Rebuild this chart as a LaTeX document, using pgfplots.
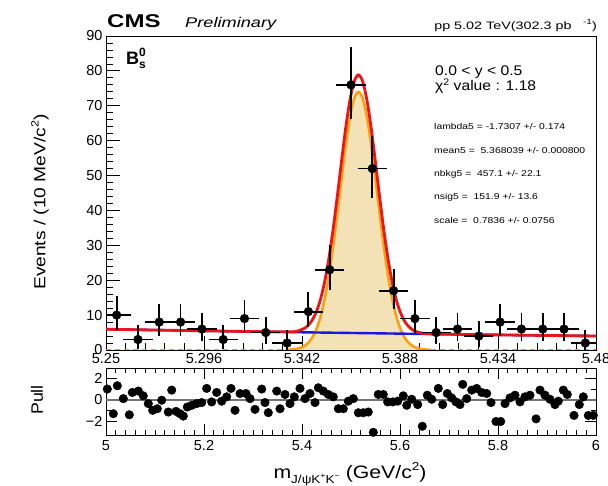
\documentclass[border=0pt]{standalone}
\usepackage{fontspec}
\setmainfont{Liberation Sans}
\usepackage{graphicx}
\usepackage{pgfplots}
\pgfplotsset{compat=1.18}
\definecolor{rootred}{RGB}{235,20,25}
\definecolor{rootorange}{RGB}{250,160,15}
\definecolor{rootfill}{RGB}{242,226,182}
\definecolor{rootblue}{RGB}{25,25,220}
\newcommand{\fs}[1]{\fontsize{#1}{#1}\selectfont}
\begin{document}
\begin{tikzpicture}
% ---------------- main panel ----------------
\begin{axis}[
  at={(106pt,136pt)}, anchor=south west, scale only axis,
  width=490pt, height=314pt,
  xmin=5.25, xmax=5.48, ymin=0, ymax=90,
  xtick={5.25,5.296,5.342,5.388,5.434,5.48},
  xticklabels={5.25,5.296,5.342,5.388,5.434,5.48},
  ytick={0,10,...,90},
  minor x tick num=4, minor y tick num=4,
  xtick pos=bottom, ytick pos=left,
  tick align=inside,
  major tick length=14pt, minor tick length=7pt,
  axis line style={line width=0.9pt, black},
  every tick/.style={line width=0.8pt, black},
  tick label style={font=\fs{14.5}},
  /pgf/number format/assume math mode=true,
]
\addplot[draw=none, fill=rootfill] coordinates {
(5.3345,0) (5.3385,0.22) (5.3405,0.47) (5.3425,0.94) (5.3445,1.80) (5.3465,3.25)
(5.3485,5.59) (5.3505,9.13) (5.3525,14.2) (5.3545,20.9) (5.3565,29.2) (5.3585,38.8)
(5.3605,48.9) (5.3625,58.7) (5.3645,66.7) (5.3665,72.1) (5.3685,74.0) (5.3705,72.1)
(5.3725,66.7) (5.3745,58.7) (5.3765,48.9) (5.3785,38.8) (5.3805,29.2) (5.3825,20.9)
(5.3845,14.2) (5.3865,9.13) (5.3885,5.59) (5.3905,3.25) (5.3925,1.80) (5.3945,0.94)
(5.3965,0.47) (5.3985,0.22) (5.4025,0)
} \closedcycle;
\addplot[rootorange, line width=2.6pt, dash pattern=on 5pt off 4pt] coordinates {(5.25,0) (5.3345,0)};
\addplot[rootorange, line width=2.6pt, dash pattern=on 5pt off 4pt] coordinates {(5.4025,0) (5.48,0)};
\addplot[rootorange, line width=2.6pt, smooth] coordinates {
(5.3345,0.04) (5.3385,0.22) (5.3405,0.47) (5.3425,0.94) (5.3445,1.80) (5.3465,3.25)
(5.3485,5.59) (5.3505,9.13) (5.3525,14.2) (5.3545,20.9) (5.3565,29.2) (5.3585,38.8)
(5.3605,48.9) (5.3625,58.7) (5.3645,66.7) (5.3665,72.1) (5.3685,74.0) (5.3705,72.1)
(5.3725,66.7) (5.3745,58.7) (5.3765,48.9) (5.3785,38.8) (5.3805,29.2) (5.3825,20.9)
(5.3845,14.2) (5.3865,9.13) (5.3885,5.59) (5.3905,3.25) (5.3925,1.80) (5.3945,0.94)
(5.3965,0.47) (5.3985,0.22) (5.4025,0.04)
};
\addplot[rootblue, line width=2.4pt] coordinates {
(5.25,5.95) (5.28,5.65) (5.31,5.36) (5.34,5.09) (5.37,4.84) (5.40,4.59) (5.43,4.36) (5.48,4.00)
};
\addplot[rootred, line width=2.8pt, smooth] coordinates {
(5.25,5.95) (5.28,5.65) (5.31,5.36) (5.3365,5.22) (5.3405,5.56) (5.3425,6.01)
(5.3445,6.85) (5.3465,8.29) (5.3485,10.61) (5.3505,14.13) (5.3525,19.19) (5.3545,25.87)
(5.3565,34.15) (5.3585,43.74) (5.3605,53.82) (5.3625,63.60) (5.3645,71.59) (5.3665,76.97)
(5.3685,78.85) (5.3705,76.94) (5.3725,71.52) (5.3745,63.50) (5.3765,53.69) (5.3785,43.57)
(5.3805,33.95) (5.3825,25.64) (5.3845,18.92) (5.3865,13.83) (5.3885,10.28) (5.3905,7.92)
(5.3925,6.45) (5.3945,5.58) (5.3965,5.09) (5.3985,4.82) (5.4025,4.61) (5.42,4.43)
(5.45,4.21) (5.48,4.00)
};
\addplot[only marks, mark=*, mark size=4.4pt, black,
  error bars/.cd, x dir=both, x fixed=0.005, y dir=both, y explicit,
  error bar style={line width=1.8pt, black},
  error mark options={line width=1.8pt, mark size=4pt, black}]
  table[x=x, y=y, y error plus=ep, y error minus=em] {
x y ep em
5.255 10 4.27 3.11
5.265 3 2.92 1.63
5.275 8 3.98 2.77
5.285 8 3.98 2.77
5.295 6 3.58 2.38
5.305 3 2.92 1.63
5.315 9 4.15 2.94
5.325 5 3.38 2.16
5.335 2 2.64 1.29
5.345 11 4.41 3.26
5.355 23 5.87 4.77
5.365 76 9.76 8.70
5.375 52 8.26 7.20
5.385 17 5.21 4.09
5.395 9 4.15 2.94
5.405 5 3.38 2.16
5.415 6 3.58 2.38
5.425 4 3.16 1.91
5.435 8 3.98 2.77
5.445 6 3.58 2.38
5.455 6 3.58 2.38
5.465 6 3.58 2.38
5.475 2 2.64 1.29
};
\end{axis}
% ---------------- pull panel ----------------
\begin{axis}[
  at={(106pt,51pt)}, anchor=south west, scale only axis,
  width=490pt, height=67pt,
  xmin=5, xmax=6, ymin=-3.3, ymax=3.0,
  xtick={5,5.2,5.4,5.6,5.8,6},
  xticklabels={5,5.2,5.4,5.6,5.8,6},
  ytick={-2,0,2}, yticklabels={−2,0,2},
  minor x tick num=9, minor y tick num=1,
  tick align=inside,
  major tick length=11pt, minor tick length=5pt,
  axis line style={line width=0.9pt, black},
  every tick/.style={line width=0.8pt, black},
  tick label style={font=\fs{14.5}},
  xticklabel style={yshift=-2pt},
  /pgf/number format/assume math mode=true,
]
\addplot[black!55, line width=1.6pt] coordinates {(5,0) (6,0)};
\addplot[only marks, mark=*, mark size=4.3pt, black] table {
5.0027 1.02
5.0149 -1.30
5.0231 1.33
5.0353 0.12
5.0476 -1.40
5.0537 0.70
5.0659 0.83
5.0761 0.38
5.0863 -0.35
5.0953 -0.98
5.1047 -0.83
5.1137 -0.03
5.1271 -1.14
5.1341 0.92
5.1429 -1.08
5.1510 -1.30
5.1578 -1.52
5.1659 -0.67
5.1749 -0.51
5.1851 -0.35
5.1953 -0.25
5.2055 1.08
5.2157 -0.19
5.2259 0.70
5.2361 -0.12
5.2463 0.29
5.2551 1.08
5.2633 -0.98
5.2735 0.60
5.2857 0.60
5.2939 0.12
5.3041 -0.89
5.3178 1.02
5.3245 -0.25
5.3312 -1.20
5.3484 0.83
5.3551 -0.83
5.3653 0.51
5.3755 -0.35
5.3843 0.29
5.3959 1.08
5.4061 0.12
5.4163 0.60
5.4265 -0.25
5.4333 1.14
5.4435 0.83
5.4537 0.51
5.4639 0.29
5.4741 -0.83
5.4843 -0.83
5.4945 -0.12
5.5047 0.12
5.5149 -1.21
5.5251 -1.21
5.5353 -1.14
5.5455 -3.05
5.5557 0.51
5.5659 0.51
5.5749 -0.19
5.5851 -0.19
5.5953 -0.12
5.6067 0.38
5.6137 -0.51
5.6239 0.06
5.6361 -0.44
5.6455 -2.48
5.6557 0.44
5.6647 0.06
5.6782 1.08
5.6871 -0.44
5.6965 0.60
5.7055 0.19
5.7143 -0.19
5.7224 -0.44
5.7280 1.46
5.7361 0.12
5.7463 0.92
5.7565 1.08
5.7667 0.70
5.7769 0.60
5.7857 -0.25
5.7959 -2.03
5.8055 -2.03
5.8143 -0.35
5.8245 0.19
5.8347 0.44
5.8449 -0.19
5.8551 0.29
5.8653 0.44
5.8776 -1.78
5.8857 0.92
5.8959 0.44
5.9061 0.06
5.9163 -0.44
5.9231 -0.12
5.9333 0.92
5.9414 0.51
5.9551 -1.46
5.9659 -0.44
5.9741 0.29
5.9843 -1.46
5.9945 -1.46
};
\end{axis}
% ---------------- texts ----------------
\node[anchor=base west, inner sep=0] at (107pt,458pt) {\scalebox{1.3}[1]{\fs{18.5}\bfseries CMS}};
\node[anchor=base west, inner sep=0] at (185pt,458.5pt) {\scalebox{1.3}[1]{\fs{14}\itshape Preliminary}};
\node[anchor=base east, inner sep=0] at (597pt,456.5pt) {\scalebox{1.33}[1]{\fs{10.8}pp 5.02 TeV(302.3 pb\hspace{0.8em}\raisebox{0.9ex}{\fs{7.5}-1})}};
\node[anchor=base west, inner sep=0] at (126pt,421pt) {\fs{18}\bfseries B\raisebox{-0.35ex}{\makebox[0pt][l]{\fs{12}\bfseries s}}\raisebox{0.9ex}{\fs{12}\bfseries 0}};
\node[anchor=base west, inner sep=0] at (435pt,410pt) {\scalebox{1.12}[1]{\fs{14}0.0 < y < 0.5}};
\node[anchor=base west, inner sep=0] at (435pt,395pt) {\scalebox{1.12}[1]{\fs{14}χ\raisebox{0.8ex}{\fs{9.5}2} value : 1.18}};
\node[anchor=base west, inner sep=0] at (434pt,356pt) {\scalebox{1.22}[1]{\fs{8.5}lambda5 = -1.7307 +/- 0.174}};
\node[anchor=base west, inner sep=0] at (434pt,332.5pt) {\scalebox{1.22}[1]{\fs{8.5}mean5 = \ 5.368039 +/- 0.000800}};
\node[anchor=base west, inner sep=0] at (434pt,309pt) {\scalebox{1.22}[1]{\fs{8.5}nbkg5 = \ 457.1 +/- 22.1}};
\node[anchor=base west, inner sep=0] at (434pt,286pt) {\scalebox{1.22}[1]{\fs{8.5}nsig5 = \ 151.9 +/- 13.6}};
\node[anchor=base west, inner sep=0] at (434pt,262pt) {\scalebox{1.22}[1]{\fs{8.5}scale = \ 0.7836 +/- 0.0756}};
\node[rotate=90, inner sep=0] at (40pt,284pt) {\scalebox{1.2}[1]{\fs{16}Events / (10 MeV/c\raisebox{0.8ex}{\fs{10.5}2})}};
\node[rotate=90, inner sep=0] at (37pt,86pt) {\scalebox{1.08}[1]{\fs{16.5}Pull}};
\node[anchor=base, inner sep=0] at (350pt,7pt) {\scalebox{1.18}[1]{\fs{18}m\raisebox{-0.45ex}{\fs{11.5}J/ψK\raisebox{0.75ex}{\fs{7.5}+}K\raisebox{0.75ex}{\fs{7.5}−}} (GeV/c\raisebox{0.85ex}{\fs{11.5}2})}};
\pgfresetboundingbox
\path[use as bounding box] (0pt,0pt) rectangle (608pt,486pt);
\end{tikzpicture}
\end{document}
